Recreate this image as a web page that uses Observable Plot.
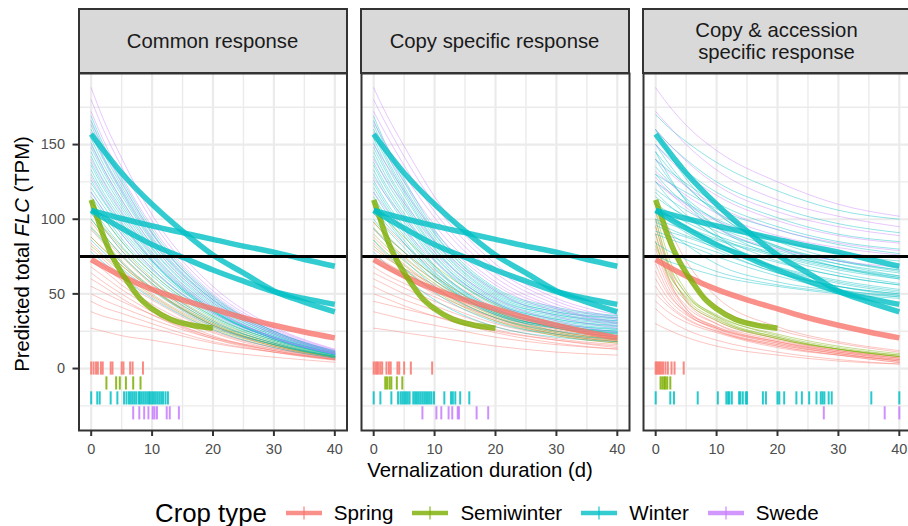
<!DOCTYPE html>
<html><head><meta charset="utf-8">
<script src="https://cdn.jsdelivr.net/npm/d3@7"></script>
<script src="https://cdn.jsdelivr.net/npm/@observablehq/plot@0.6"></script>
<style>
body{margin:0;background:#fff;}
#fig{position:relative;width:908px;height:526px;overflow:hidden;font-family:"Liberation Sans",Arial,Helvetica,sans-serif;background:#fff;}
.panel{position:absolute;top:0;}
.strip{position:absolute;top:8px;height:66px;box-sizing:border-box;border:2px solid #333;background:#D9D9D9;display:flex;align-items:center;justify-content:center;text-align:center;font-size:20.3px;line-height:22px;color:#1A1A1A;}
.ytitle{position:absolute;left:22px;top:253.5px;transform:translate(-50%,-50%) rotate(-90deg);white-space:nowrap;font-size:20.3px;color:#000;}
.xtitle{position:absolute;left:480px;top:470px;transform:translate(-50%,-50%);white-space:nowrap;font-size:20.3px;color:#000;}
.legend{position:absolute;left:155px;top:498px;height:30px;display:flex;align-items:center;white-space:nowrap;color:#000;}
.legend .ttl{font-size:25.8px;margin-right:19px;}
.legend .item{display:flex;align-items:center;margin-right:19px;font-size:20.6px;}
.legend svg{margin-right:12px;}
</style></head>
<body><div id="fig"></div>
<script>
// ---------- data ----------
const crops = ["Spring", "Semiwinter", "Winter", "Swede"];
const cropColors = ["#F8766D", "#7CAE00", "#00BFC4", "#C77CFF"];
const panelTitles = [["Common response"], ["Copy specific response"], ["Copy & accession", "specific response"]];
const xTicks = [0, 10, 20, 30, 40];
const yTicks = [0, 50, 100, 150];
const threshold = 75;

// thin curves: values at these durations
const X = [0, 2, 5, 10, 20, 30, 40];

const p1Spring = [
[27,25,22,19,12,7.6,4.2],[38,35,32,27,17,11,6],[45,41,37,30,18,11,6],[50,46,41,33,20,12,6.5],
[55,51,45,36,21,13,7],[60,55,47,36,20,11,5.5],[64,58,50,38,21,12,6],[68,62,53,41,22,12,6],
[72,66,56,43,24,13,6.5],[76,69,59,46,25,14,7],[80,73,62,48,26,14,7],[84,76,66,50,28,15,7.5],
[88,80,69,53,29,16,8],[93,84,71,53,29,15,7.5],[98,88,75,56,30,16,8],[104,94,79,59,32,17,8]];
const p1Semi = [
[82,75,64,49,27,15,7.5],[88,80,69,53,29,16,8],[95,86,72,54,30,16,7.5],[100,90,76,57,31,17,8],
[106,95,81,60,33,18,8.5],[112,101,85,64,35,19,9]];
const p1Winter = [
[78,71,61,47,26,14,7],[86,78,67,52,28,16,8],[94,85,71,54,29,16,7.5],[100,90,76,57,31,17,8],
[104,94,79,59,32,17,8],[108,97,82,62,34,18,8.5],[112,101,85,64,35,19,9],[115,104,87,66,36,19,9],
[118,106,90,67,37,20,9.5],[121,109,92,69,38,20,10],[124,112,94,71,38,21,10],[126,113,96,72,39,21,10],
[130,116,98,72,38,20,9],[133,118,100,73,39,20,9.5],[136,121,102,75,39,20,9.5],[138,123,104,76,40,21,10],
[142,126,107,78,41,21,10],[145,129,109,80,42,22,10],[148,132,111,81,43,22,10.5],[151,134,113,83,44,23,10.5],
[154,137,116,85,45,23,11],[157,140,118,86,46,24,11],[160,142,120,88,46,24,11],[163,145,122,90,47,25,11.5],
[166,148,125,91,48,25,11.5],[169,150,127,93,49,25,12]];
const p1Swede = [
[118,106,90,67,37,20,9.5],[128,115,97,73,40,21,10],[140,125,105,77,41,21,10],[150,134,113,83,44,23,10.5],
[158,141,119,87,46,24,11],[165,147,124,91,48,25,11.5],[172,153,129,95,50,26,12],[180,160,135,99,52,27,12.5],
[188,167,141,103,55,28,13]];

const p2Spring = [
[27,26,24,21,15,11,9],[38,36,33,29,21,16,13],[45,43,40,35,25,19,15],[50,47,42,35,24,17,13],
[55,51,46,39,26,19,14],[60,56,50,42,28,20,16],[64,60,54,45,30,22,17],[68,63,57,48,32,23,18],
[72,67,61,50,34,25,19],[76,71,64,53,36,26,20],[80,74,67,56,38,27,21],[84,76,67,53,33,23,18],
[88,80,70,55,34,24,18.5],[93,85,74,59,36,25,19.5],[98,89,78,62,38,27,21],[104,95,83,66,41,28,22]];
const p2Semi = [
[82,75,66,52,32,22,17],[86,78,69,54,34,23,18],[90,82,72,57,35,24,19],[94,86,75,59,37,25,20],
[98,89,78,62,38,27,21],[110,100,88,69,43,30,23]];
const p2Winter = [
[78,70,61,46,28,21,18],[86,77,67,51,31,23,20],[94,85,73,55,34,25,22],[100,90,78,59,36,27,23],
[104,94,81,61,37,28,24],[108,97,84,64,39,29,25],[112,100,84,62,36,27,23.5],[115,102,86,63,37,28,24],
[118,105,89,65,38,28,25],[121,108,91,67,39,29,25],[124,110,93,68,40,30,26],[126,112,95,69,40,30,26.5],
[130,116,98,72,42,31,27],[133,118,100,73,43,32,28],[136,121,102,75,44,33,28.5],[138,123,104,76,44,33,29],
[142,126,107,78,45,34,30],[145,129,109,80,46,35,30.5],[148,132,111,81,47,36,31],[151,134,113,83,48,36,32],
[154,137,116,85,49,37,32],[157,140,118,86,50,38,33],[160,142,120,88,51,38,34],[163,145,122,90,52,39,34],
[166,148,125,91,53,40,35],[169,150,127,93,54,41,35.5]];
const p2Swede = [
[118,107,93,72,44,30,22],[128,116,101,78,47,32,24],[140,127,111,85,52,35,27],[150,137,119,92,56,38,28.5],
[158,144,125,96,58,40,30],[165,150,130,101,61,41,31],[172,157,136,105,64,43,33],[180,164,142,110,67,45,34],
[188,171,149,115,70,47,36]];

const p3Spring = [
[100,70,45,30,18,11,6],[95,68,46,32,20,12,7],[90,62,40,27,16,10,5],[85,60,42,30,19,12,7],
[80,58,40,28,17,10,5],[105,85,62,42,26,17,11],[110,95,72,48,28,18,12],[75,55,38,26,15,9,4],
[70,52,37,27,17,11,7],[65,50,38,28,18,11,6],[60,47,36,27,18,12,8],[55,44,34,25,15,9,4],
[50,42,33,25,16,10,5],[45,38,31,24,14,9,6],[40,33,26,19,11,6,3],[30,26,21,15,9,5,3]];
const p3Semi = [
[105,76,52,35,21,13,8],[100,72,50,34,20,13,9],[95,70,50,36,22,14,9],[90,66,47,33,21,13,8],
[85,62,45,32,20,13,8],[82,64,48,35,23,15,10]];
const p3Winter = [
[170,162,152,138,119,106,100],[160,151,140,125,108,97,91],[150,142,132,118,101,90,85],[140,133,124,111,95,85,80],
[130,125,118,107,93,83,77],[125,119,111,100,86,77,72],[145,135,122,105,85,73,66],[120,114,106,95,81,72,66],
[135,126,114,99,82,72,65],[115,109,102,92,79,70,64],[150,138,123,104,82,70,62],[110,105,98,89,77,68,62],
[160,145,127,105,81,68,60],[105,101,95,87,76,67,61],[130,121,110,95,78,68,61],[100,97,93,86,75,66,60],
[140,128,113,95,75,64,57],[118,110,101,89,72,62,56],[98,94,89,83,71,62,56],[125,115,103,88,68,58,52],
[96,92,88,81,68,59,53],[110,103,95,84,67,57,51],[145,130,112,90,66,55,49],[105,99,91,80,64,55,50],
[92,89,85,78,64,55,50],[90,87,83,75,62,53,48],[100,92,83,70,58,52,49],[84,79,73,65,56,51,48],
[76,72,68,62,55,50,47]];
const p3Swede = [
[188,177,163,146,125,110,102],[172,163,150,133,113,102,95],[160,151,139,123,105,95,89],[150,141,130,116,99,89,84],
[140,132,122,109,93,84,79],[132,125,116,104,89,81,76],[125,118,110,99,86,78,74],[128,119,108,94,80,72,68]];

// rug: duration at which each accession drops below the threshold
const r1Spring = [0,0.4,0.8,1.1,1.6,1.9,3.2,3.5,5.0,5.3,6.4,6.8,8.5];
const r1Semi = [2.5,4.1,4.7,5.7,6.9,8.1];
const r1Winter = [0,1.0,1.4,3.2,4.3,5.4,5.8,6.2,6.5,6.8,7.1,7.4,7.8,8.0,8.3,8.6,8.9,9.2,9.5,9.7,10.0,10.3,10.6,10.9,11.2,11.5,11.8,12.2,12.6];
const r1Swede = [6.9,7.9,8.7,9.4,10.1,10.4,10.8,12.4,12.9,14.4];
const r2Spring = [0,0.3,0.55,0.8,1.1,1.4,2.1,2.5,2.8,3.9,4.2,5.0,6.1,9.6];
const r2Semi = [1.9,2.2,2.6,2.9,3.8,4.7];
const r2Winter = [0,1.1,2.9,4.0,4.4,4.7,5.0,5.3,5.6,5.9,6.5,6.8,7.1,7.4,7.7,8.0,8.3,8.6,8.9,9.2,9.5,9.9,11.6,12.7,13.0,13.4,14.2,15.7];
const r2Swede = [8.0,10.3,11.1,12.3,12.9,13.8,14.0,16.9,18.8];
const r3Spring = [0,0.2,0.45,0.65,0.9,1.2,1.6,2.0,2.6,3.1,4.6];
const r3Semi = [0.8,1.1,1.4,1.6,1.9,2.4];
const r3Winter = [0,2.4,3.0,6.9,10.2,11.6,11.9,12.1,12.5,13.7,13.9,14.3,14.8,15.0,17.6,18.1,20.0,20.3,21.1,23.1,24.0,25.2,26.4,27.1,27.4,27.7,28.4,28.9,35.4,40];
const r3Swede = [27.6,37.6,40];

// thick (observed) curves, same in every panel
const thickX = [0,5,10,15,20,25,30,35,40];
const thickSpring = [73,62,53,46,40,34,29,24.5,20.5];
const thickWinterA = [157,131,110,92,76,64,52,44.5,38];
const thickWinterB = [106,100.5,95.5,91,86.5,82,78,73,68.5];
const thickWinterC = [106,94,83,74.5,66,58.5,51.5,47,43];
const semiX = [0,1,2,3,4,6,8,10,13,16,20];
const thickSemi = [113,101,89,79,71,58,47,40,33,29.5,27];

// ---------- tables ----------
const thinSets = [
  [p1Spring, p1Semi, p1Winter, p1Swede],
  [p2Spring, p2Semi, p2Winter, p2Swede],
  [p3Spring, p3Semi, p3Winter, p3Swede]];
const rugSets = [
  [r1Spring, r1Semi, r1Winter, r1Swede],
  [r2Spring, r2Semi, r2Winter, r2Swede],
  [r3Spring, r3Semi, r3Winter, r3Swede]];

function thinRows(sets) {
  const rows = []; let id = 0;
  sets.forEach((curves, ci) => curves.forEach(c => { c.forEach((v, i) => rows.push({x: X[i], y: v, id, crop: crops[ci]})); id++; }));
  return rows;
}
function rugRows(sets) {
  const rows = [];
  sets.forEach((xs, ci) => xs.forEach(x => rows.push({x, crop: crops[ci], y1: -10 * ci - 4.4, y2: -10 * ci + 4.4})));
  return rows;
}
const thickRows = [];
[[thickSpring, thickX, "Spring", "s"], [thickSemi, semiX, "Semiwinter", "m"],
 [thickWinterA, thickX, "Winter", "a"], [thickWinterB, thickX, "Winter", "b"], [thickWinterC, thickX, "Winter", "c"]]
 .forEach(([ys, xs, crop, id]) => ys.forEach((y, i) => thickRows.push({x: xs[i], y, crop, id})));

// ---------- drawing ----------
const fig = document.getElementById("fig");
const frameLefts = [78.5, 360.5, 642.5];
const PW = 268;
const font = '"Liberation Sans", Arial, Helvetica, sans-serif';

frameLefts.forEach((fl, p) => {
  const mL = p === 0 ? fl : 4, mR = 4;
  const marks = [
    Plot.frame({fill: "white"}),
    Plot.gridX([5, 15, 25, 35], {stroke: "#EBEBEB", strokeOpacity: 1, strokeWidth: 1.4}),
    Plot.gridY([-25, 25, 75, 125, 175], {stroke: "#EBEBEB", strokeOpacity: 1, strokeWidth: 1.4}),
    Plot.gridX(xTicks, {stroke: "#EBEBEB", strokeOpacity: 1, strokeWidth: 2.2}),
    Plot.gridY(yTicks, {stroke: "#EBEBEB", strokeOpacity: 1, strokeWidth: 2.2}),
    Plot.line(thinRows(thinSets[p]), {x: "x", y: "y", z: "id", stroke: "crop", strokeWidth: 1, strokeOpacity: 0.42, curve: "monotone-x"}),
    Plot.line(thickRows, {x: "x", y: "y", z: "id", stroke: "crop", strokeWidth: 5.5, strokeOpacity: 0.8, curve: "monotone-x", strokeLinecap: "butt"}),
    Plot.ruleY([threshold], {stroke: "black", strokeWidth: 3}),
    Plot.ruleX(rugRows(rugSets[p]), {x: "x", y1: "y1", y2: "y2", stroke: "crop", strokeWidth: 2, strokeOpacity: 0.85}),
    Plot.frame({stroke: "#333333", strokeWidth: 2}),
    Plot.axisX({ticks: xTicks, tickSize: 6, tickPadding: 7, stroke: "#333333", strokeWidth: 2, fill: "#4D4D4D", fontSize: 14.5, label: null})
  ];
  if (p === 0) marks.push(Plot.axisY({ticks: yTicks, tickSize: 6, tickPadding: 8, stroke: "#333333", strokeWidth: 2, fill: "#4D4D4D", fontSize: 14.5, label: null}));
  const svg = Plot.plot({
    width: mL + PW + mR, height: 460,
    marginTop: 73, marginBottom: 30, marginLeft: mL, marginRight: mR,
    x: {domain: [-2, 42], axis: null},
    y: {domain: [-41.5, 197.6], axis: null},
    color: {domain: crops, range: cropColors},
    style: {fontFamily: font, fontSize: "14.5px", background: "transparent", overflow: "visible"},
    marks
  });
  svg.classList.add("panel");
  svg.style.left = (fl - mL) + "px";
  fig.appendChild(svg);

  const strip = document.createElement("div");
  strip.className = "strip";
  strip.style.left = (fl - 1) + "px";
  strip.style.width = (PW + 2) + "px";
  strip.innerHTML = panelTitles[p].join("<br>");
  fig.appendChild(strip);
});

const yt = document.createElement("div");
yt.className = "ytitle";
yt.innerHTML = "Predicted total <i>FLC</i> (TPM)";
fig.appendChild(yt);

const xt = document.createElement("div");
xt.className = "xtitle";
xt.textContent = "Vernalization duration (d)";
fig.appendChild(xt);

const leg = document.createElement("div");
leg.className = "legend";
let html = '<span class="ttl">Crop type</span>';
crops.forEach((c, i) => {
  html += `<span class="item"><svg width="36" height="20"><line x1="0" x2="36" y1="10" y2="10" stroke="${cropColors[i]}" stroke-width="4.5" stroke-opacity="0.8"/><line x1="18" x2="18" y1="3.5" y2="16.5" stroke="${cropColors[i]}" stroke-width="1.2" stroke-opacity="0.9"/></svg>${c}</span>`;
});
leg.innerHTML = html;
fig.appendChild(leg);
</script></body></html>
